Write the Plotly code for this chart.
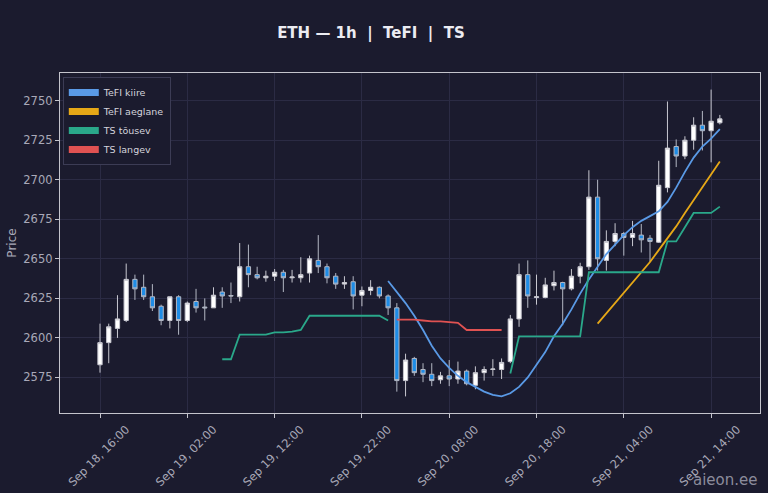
import pandas as pd
import plotly.graph_objects as go

# hourly candles, Sep 18 16:00 -> Sep 21 15:00
times = pd.date_range("2024-09-18 16:00", periods=72, freq="h")

opens = [2583, 2597, 2606, 2611, 2637, 2632, 2626, 2620, 2611, 2626,
         2611, 2623, 2619.5, 2619, 2629, 2626.8, 2626, 2645, 2640, 2638,
         2639, 2641.5, 2638, 2638, 2641, 2649, 2645, 2639, 2634, 2635.5,
         2627, 2630, 2632, 2626.5, 2619, 2573, 2587, 2580, 2577, 2573.5,
         2576, 2574, 2579, 2570, 2578, 2580, 2580, 2585, 2612, 2640,
         2625.5, 2625.5, 2633, 2635, 2631, 2639, 2645, 2689, 2649, 2661,
         2666, 2663.5, 2665, 2663, 2660.5, 2695, 2721, 2715, 2725, 2734.5,
         2731, 2736]
highs = [2609, 2609, 2627, 2647, 2640, 2640, 2634, 2621, 2626, 2627,
         2623, 2631, 2625, 2632, 2632, 2635, 2660, 2659, 2645, 2642.5,
         2643.5, 2643, 2643, 2651, 2652, 2665, 2647, 2641, 2639, 2639,
         2632.5, 2636.5, 2632.5, 2627.5, 2622, 2590, 2588, 2584, 2584, 2578.5,
         2586, 2585, 2580, 2582, 2582, 2586.5, 2587, 2614.5, 2647, 2649,
         2640, 2638, 2642.5, 2635.5, 2643.5, 2647.5, 2706, 2700, 2668, 2672.5,
         2667, 2674, 2672, 2665, 2712, 2749.5, 2725.5, 2727.5, 2739.5, 2743.5,
         2757, 2741]
lows = [2578, 2584, 2600, 2610, 2624, 2624, 2617, 2608, 2606, 2602,
        2610, 2616, 2611, 2619, 2619, 2622, 2623, 2632, 2637, 2635.5,
        2636, 2629, 2635, 2635, 2635, 2641, 2634.5, 2631, 2631, 2618,
        2620, 2627, 2625, 2614.5, 2566, 2563, 2576, 2572, 2569.5, 2571,
        2569.5, 2571, 2570, 2567.5, 2573, 2576, 2574, 2584, 2607, 2619,
        2621, 2625, 2630, 2608, 2630, 2634.5, 2643, 2642.5, 2642.5, 2658,
        2652, 2658, 2654, 2648, 2660, 2692, 2708, 2713, 2719, 2718.5,
        2711, 2735]
closes = [2597, 2607, 2612, 2637, 2631, 2626, 2619, 2611, 2626, 2611,
          2622, 2619, 2619, 2627, 2626.5, 2626.5, 2645, 2640, 2638, 2639,
          2641.5, 2638, 2638.5, 2640, 2650, 2645, 2638, 2634, 2635, 2626.5,
          2630, 2632, 2626.5, 2619, 2573, 2586, 2578, 2577, 2573, 2576,
          2574, 2579, 2571, 2578, 2580, 2580.3, 2584.5, 2612, 2640, 2626.5,
          2626, 2633.5, 2635, 2631, 2639, 2645, 2689, 2650, 2661, 2666,
          2663.5, 2666, 2662, 2661, 2696.5, 2720, 2715, 2725, 2734.5, 2731,
          2737, 2738.5]

N = None
tefi_fast = [N] * 33 + [
    2636, 2629, 2622, 2614, 2605, 2595, 2587, 2581, 2576, 2572,
    2569, 2566, 2564, 2563, 2565, 2569, 2575, 2583, 2591, 2601,
    2609, 2618, 2628, 2637, 2645, 2653, 2659, 2665, 2670, 2674,
    2677, 2680, 2686, 2695, 2705, 2714, 2721, 2726, 2732]
tefi_slow = [N] * 57 + [
    2609, 2615.5, 2622, 2628.5, 2635, 2641, 2648, 2655.5, 2663, 2670.5,
    2679, 2687, 2695, 2703, 2711.5]
ts_up = [N] * 14 + [
    2586.5, 2586.5, 2602, 2602, 2602, 2602, 2603.5, 2603.5, 2604, 2605,
    2614, 2614, 2614, 2614, 2614, 2614, 2614, 2614, 2614, 2611] + [N] * 13 + [
    2577.5, 2601, 2601, 2601, 2601, 2601, 2601, 2601, 2601, 2641.5,
    2641.5, 2641.5, 2641.5, 2641.5, 2641.5, 2641.5, 2641.5, 2641.5, 2661, 2661,
    2670, 2679, 2679, 2679, 2683]
ts_down = [N] * 34 + [
    2611.5, 2611.5, 2611.5, 2611, 2610.5, 2610.5, 2610, 2609.5, 2605, 2605,
    2605, 2605, 2605] + [N] * 25

BG = "#1b1b2e"
GRID = "#2b2b44"
FRAME = "#c4c4cc"
TXT = "#a9a9b8"

fig = go.Figure()
fig.add_trace(go.Candlestick(
    x=times, open=opens, high=highs, low=lows, close=closes,
    increasing=dict(fillcolor="#ffffff", line=dict(color="#c8c8d0", width=1)),
    decreasing=dict(fillcolor="#1e8ce6", line=dict(color="#b4b8c4", width=1)),
    showlegend=False, name="ETH"))

lines = [("TeFI kiire", tefi_fast, "#5a9ae6"),
         ("TeFI aeglane", tefi_slow, "#e6a817"),
         ("TS tõusev", ts_up, "#2aa88a"),
         ("TS langev", ts_down, "#e05252")]
for name, vals, col in lines:
    fig.add_trace(go.Scatter(x=times, y=vals, mode="lines", name=name,
                             line=dict(color=col, width=1.8),
                             showlegend=False, connectgaps=False))
# legend-only entries with thick swatches
for name, vals, col in lines:
    fig.add_trace(go.Scatter(x=[None], y=[None], mode="lines", name=name,
                             line=dict(color=col, width=7)))

fig.update_layout(
    width=768, height=493,
    paper_bgcolor=BG, plot_bgcolor=BG,
    font=dict(family="DejaVu Sans", color=TXT, size=11),
    margin=dict(l=60, r=8, t=73, b=80, autoexpand=False),
    title=dict(text="<b>ETH — 1h  |  TeFI  |  TS</b>", x=0.483, xanchor="center",
               y=0.934, yanchor="middle",
               font=dict(size=15, color="#ececf2", family="DejaVu Sans")),
    legend=dict(x=0.004, y=0.988, xanchor="left", yanchor="top",
                bgcolor=BG, bordercolor="#3c3c55", borderwidth=1,
                font=dict(size=9.5, color="#d4d4dc"), itemwidth=30,
                tracegroupgap=0),
    xaxis=dict(rangeslider=dict(visible=False), type="date",
               range=["2024-09-18 11:25", "2024-09-21 19:36"],
               tick0="2024-09-18 16:00", dtick=36000000,
               tickformat="%b %d, %H:%M", tickangle=-45, ticklabelshift=26,
               showgrid=True, gridcolor=GRID, gridwidth=1,
               showline=True, linecolor=FRAME, linewidth=1.3, mirror=True,
               ticks="outside", ticklen=4, tickcolor=FRAME,
               tickfont=dict(size=11.5, color=TXT), zeroline=False),
    yaxis=dict(range=[2552.5, 2767.5], dtick=25, tick0=2575,
               title=dict(text="Price", font=dict(size=12, color=TXT), standoff=4),
               showgrid=True, gridcolor=GRID, gridwidth=1,
               showline=True, linecolor=FRAME, linewidth=1.3, mirror=True,
               ticks="outside", ticklen=4, tickcolor=FRAME,
               tickfont=dict(size=11.5, color=TXT), zeroline=False),
    annotations=[dict(text="aieon.ee", xref="paper", yref="paper",
                      x=0.95, y=-0.197, xanchor="center", yanchor="middle",
                      showarrow=False, font=dict(size=15, color="#8c8c9c"))],
)

# drop the page's default body margin so the figure sits at the window corner
fig.write_html("out.html",
               config={"displayModeBar": False},
               post_script="document.body.style.margin='0';"
                           "document.body.style.background='" + BG + "';")
